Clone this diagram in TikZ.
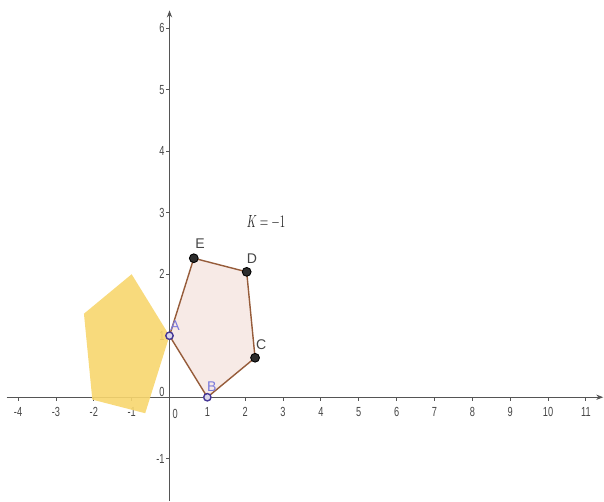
\documentclass[tikz,border=0pt]{standalone}
\usepackage{fontspec}
\setsansfont{Liberation Sans}
\usetikzlibrary{arrows.meta}
\definecolor{axisc}{RGB}{85,85,85}
\definecolor{tickc}{RGB}{70,70,70}
\definecolor{pinkf}{RGB}{246,230,226}
\definecolor{brownl}{RGB}{150,92,58}
\definecolor{yellowf}{RGB}{247,214,110}
\definecolor{ptblue}{RGB}{70,55,150}
\definecolor{lblblue}{RGB}{120,120,220}
\definecolor{ptdark}{RGB}{45,45,45}
\begin{document}
\begin{tikzpicture}[x=0.757cm,y=1.23cm,
  axis/.style={draw=axisc,line width=0.7pt},
  ticklbl/.style={font=\sffamily\fontsize{7.5}{8}\selectfont,text=tickc,inner sep=0pt},
  ptlbl/.style={font=\sffamily\fontsize{8}{9}\selectfont,inner sep=0pt},
  freept/.style={circle,draw=ptblue,fill=white!80!ptblue,line width=0.8pt,inner sep=0pt,minimum size=4.2pt},
  deppt/.style={circle,draw=black,fill=ptdark,line width=0.5pt,inner sep=0pt,minimum size=5pt}]
\useasboundingbox (-4.478,-1.688) rectangle (11.479,6.459);
% axes
\coordinate (xl) at (-4.30,0);
\coordinate (xr) at (11.46,0);
\coordinate (yb) at (0,-1.688);
\coordinate (yt) at (0,6.29);
\draw[axis,-{Stealth[length=4pt,width=3pt]}] (xl) -- (xr);
\draw[axis,-{Stealth[length=4pt,width=3pt]}] (yb) -- (yt);
% x ticks and labels
\foreach \i in {-4,-3,-2,-1,1,2,3,4,5,6,7,8,9,10,11}{
  \draw[axis,line width=0.5pt] (\i,0) -- (\i,-0.06);
  \node[ticklbl] (xt\i) at (\i,-0.24) {\scalebox{0.7}[1]{\i}};
}
\node[ticklbl] (xt0) at (0.15,-0.27) {\scalebox{0.7}[1]{0}};
% y ticks and labels
\foreach \j in {-1,1,2,3,4,5,6}{
  \draw[axis,line width=0.5pt] (0,\j) -- (-0.1,\j);
  \node[ticklbl,anchor=east] (yt\j) at (-0.12,\j) {\scalebox{0.7}[1]{\j}};
}
\node[ticklbl,anchor=east] (yt0) at (-0.12,0.08) {\scalebox{0.7}[1]{0}};
% pentagon points
\coordinate (A) at (0,1);
\coordinate (B) at (1,0);
\coordinate (C) at (2.2601,0.6420);
\coordinate (D) at (2.0388,2.0388);
\coordinate (E) at (0.6420,2.2601);
% image under homothety centre A, K=-1
\coordinate (B1) at (-1,2);
\coordinate (C1) at (-2.2601,1.3580);
\coordinate (D1) at (-2.0388,-0.0388);
\coordinate (E1) at (-0.6420,-0.2601);
\fill[yellowf,opacity=0.9] (A) -- (B1) -- (C1) -- (D1) -- (E1) -- cycle;
\filldraw[fill=pinkf,fill opacity=0.85,draw=brownl,line width=0.8pt] (A) -- (B) -- (C) -- (D) -- (E) -- cycle;
% points
\node[freept] (pA) at (A) {};
\node[freept] (pB) at (B) {};
\node[deppt] (pC) at (C) {};
\node[deppt] (pD) at (D) {};
\node[deppt] (pE) at (E) {};
\node[ptlbl,text=lblblue] (lA) at (0.15,1.17) {A};
\node[ptlbl,text=lblblue] (lB) at (1.12,0.18) {B};
\node[ptlbl,text=tickc] (lC) at (2.42,0.85) {C};
\node[ptlbl,text=tickc] (lD) at (2.18,2.26) {D};
\node[ptlbl,text=tickc] (lE) at (0.81,2.49) {E};
\node[font=\fontsize{10}{12}\selectfont,text=black!85,inner sep=0pt] (K) at (2.55,2.85) {\scalebox{0.62}[1]{$K=-1$}};
\end{tikzpicture}
\end{document}
